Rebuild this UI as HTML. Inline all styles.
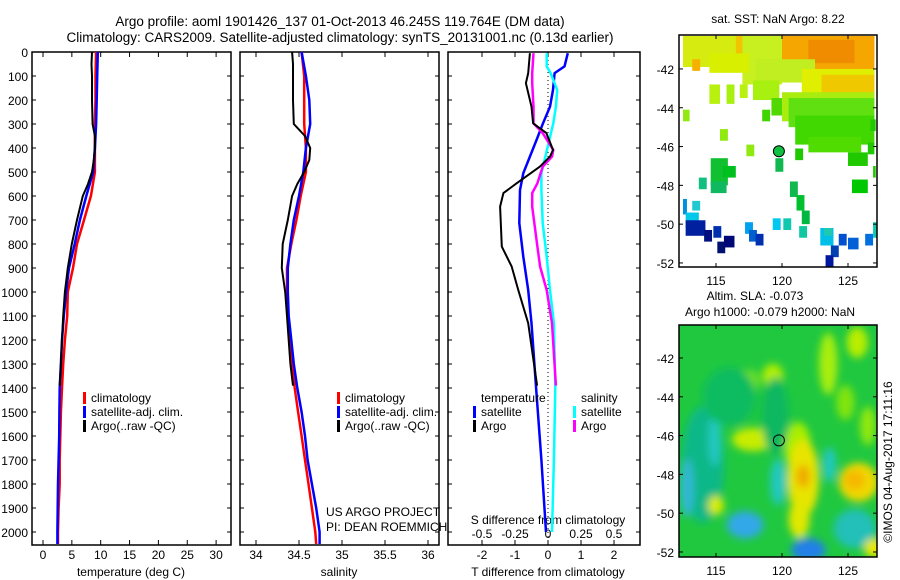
<!DOCTYPE html>
<html><head><meta charset="utf-8"><style>
html,body{margin:0;padding:0;background:#fff;}
svg{display:block;font-family:"Liberation Sans",Arial,sans-serif;}
text{fill:#000;}
</style></head><body>
<svg id="fig" width="900" height="580" viewBox="0 0 900 580" xmlns="http://www.w3.org/2000/svg">
<defs>
<filter id="blur" x="-20%" y="-20%" width="140%" height="140%"><feGaussianBlur stdDeviation="4"/></filter>
<clipPath id="clipB"><rect x="679" y="325" width="198" height="232"/></clipPath>
<clipPath id="clipT"><rect x="679" y="35" width="198" height="232"/></clipPath>
</defs>
<text x="340" y="26" font-size="13.5" text-anchor="middle">Argo profile: aoml 1901426_137 01-Oct-2013 46.245S 119.764E (DM data)</text>
<text x="340" y="42" font-size="13.5" text-anchor="middle">Climatology: CARS2009. Satellite-adjusted climatology: synTS_20131001.nc (0.13d earlier)</text>
<g id="p1"></g>
<g id="p2"></g>
<g id="p3"></g>
<g id="mapT"></g>
<g id="mapB"></g>
<text transform="translate(892,462) rotate(-90)" font-size="12" text-anchor="middle">©IMOS 04-Aug-2017 17:11:16</text>
</svg>
<script>
// ---- data ----
const depthsClim = [0,100,200,300,400,500,600,700,800,900,1000,1100,1200,1300,1400,1500,1600,1700,1800,1900,2000,2050];
const tempClim =   [9.2,9.1,9.1,9.0,9.0,9.0,8.3,7.1,5.9,5.2,4.3,4.2,3.8,3.5,3.3,3.1,3.0,2.9,2.9,2.7,2.6,2.6];
const tempSat =    [9.5,9.4,9.3,9.2,9.0,8.7,7.5,6.4,5.5,4.5,4.0,3.6,3.3,3.1,2.9,2.85,2.8,2.7,2.6,2.55,2.5,2.5];
const depthsArgo = [0,50,100,200,300,350,400,450,500,550,600,700,800,900,1000,1100,1200,1300,1390];
const tempArgo =   [8.5,8.4,8.5,8.5,8.6,9.0,9.0,8.8,8.5,7.8,6.9,5.9,5.0,4.3,3.8,3.5,3.3,3.1,2.9];
const salClim =    [34.53,34.56,34.56,34.56,34.58,34.58,34.52,34.47,34.41,34.36,34.36,34.37,34.39,34.42,34.45,34.49,34.53,34.57,34.61,34.65,34.69,34.70];
const salSat =     [34.53,34.58,34.62,34.63,34.58,34.55,34.50,34.44,34.40,34.37,34.37,34.38,34.41,34.44,34.48,34.53,34.57,34.60,34.65,34.70,34.74,34.74];
const salArgo =    [34.42,34.43,34.43,34.43,34.44,34.57,34.63,34.62,34.56,34.48,34.42,34.37,34.31,34.30,34.34,34.36,34.38,34.40,34.43];
const depthsDiff = [5,60,88,158,228,297,367,436,505,575,713,853,992,1130,1400,1700,2000];
const dTsat =      [0.6,0.5,0.2,0.15,0.06,-0.15,-0.35,-0.55,-0.75,-0.85,-0.87,-0.75,-0.6,-0.5,-0.36,-0.2,-0.06];
const dSsat =      [-0.01,-0.01,0.02,0.07,0.06,0.04,0.01,-0.02,-0.05,-0.05,-0.04,-0.01,0.015,0.045,0.055,0.045,0.03];
const depthsDArgo =[5,88,130,228,297,338,408,436,478,547,588,644,811,894,992,1130,1390];
const dTargo =     [-0.55,-0.6,-0.67,-0.5,-0.45,-0.05,0.15,0.06,-0.25,-0.95,-1.35,-1.45,-1.4,-1.1,-0.9,-0.6,-0.33];
const dSargo =     [-0.11,-0.12,-0.12,-0.11,-0.11,-0.04,0.04,0.03,-0.04,-0.08,-0.12,-0.12,-0.08,-0.06,-0.01,0.03,0.06];
const depthTicks = [0,100,200,300,400,500,600,700,800,900,1000,1100,1200,1300,1400,1500,1600,1700,1800,1900,2000];
const tempTicks = [0,5,10,15,20,25,30];
const salTicks = [34,34.5,35,35.5,36];
const dTTicks = [-2,-1,0,1,2];
const dSTicks = [-0.5,-0.25,0,0.25,0.5];
const dSTickLabels = ["-0.5","-0.25","0","0.25","0.5"];
const lonTicks = [115,120,125];
const latTicks = [-42,-44,-46,-48,-50,-52];
const argoLon = 119.764, argoLat = -46.245;
const sstCells = [
 [112.5,-40.3,14.5,1.2,"#f2c400"],[112.5,-40.3,4,1.6,"#d6ec10"],[117,-40.3,3,2.5,"#c8f020"],[120,-40.3,7,2.2,"#f5a600"],
 [122,-40.5,3.5,1.2,"#f08c00"],[113.2,-41.5,0.6,0.6,"#f5b000"],[114.5,-41.2,3,1,"#d8f000"],[118,-41.5,4.5,1.2,"#c0ee20"],
 [121.5,-42,5.5,1.8,"#e0ee00"],[123,-42.3,4,1.2,"#f0c800"],[120,-43.2,7,1.5,"#a8ec10"],[120.5,-43.5,6.5,1.5,"#60e010"],
 [121,-44.4,6,1.5,"#40d800"],[122,-45.5,4,0.8,"#50dc00"],[114.5,-42.8,0.8,1,"#b8f010"],[115.8,-42.8,0.6,1,"#a8f010"],
 [116.8,-42.8,0.6,0.7,"#b8f010"],[117.8,-42.6,2,1,"#a8f010"],[119.2,-43.5,0.8,0.9,"#50d800"],[112.5,-44.1,0.5,0.6,"#90ea10"],
 [115.3,-45.1,0.6,0.6,"#90ea10"],[117.3,-45.9,0.6,0.6,"#90ea10"],[118.5,-44.1,0.6,0.6,"#40d400"],[121,-46.1,0.6,0.6,"#20c800"],
 [114.6,-46.6,1.3,1.4,"#10c030"],[115.5,-47,1,0.6,"#00c020"],[113.7,-47.6,0.6,0.6,"#10c080"],[114.6,-47.8,1.2,0.6,"#10b860"],
 [119.5,-46.6,0.6,0.7,"#10b850"],[120.6,-47.8,0.6,0.8,"#10b850"],[121.1,-48.5,0.6,0.8,"#00c030"],[121.5,-49.3,0.6,0.7,"#00b840"],
 [125,-46.3,1.5,0.7,"#20c800"],[125.3,-47.7,1.2,0.7,"#00c800"],[126.9,-47,0.2,0.6,"#20c800"],[126.5,-45.8,0.5,0.6,"#20c800"],
 [112.5,-48.7,0.3,0.8,"#0090e0"],[113.2,-48.8,0.6,0.5,"#20c8d0"],[112.7,-49.4,1,0.8,"#00c8e8"],[112.7,-49.8,1.5,0.8,"#0020a0"],
 [114.1,-50.3,0.6,0.6,"#001080"],[114.8,-50.1,0.6,0.6,"#0030b0"],[115.1,-50.9,0.6,0.6,"#001070"],[115.6,-50.6,0.8,0.6,"#000878"],
 [117.2,-49.9,0.6,0.6,"#00a0f0"],[117.5,-50.3,0.6,0.6,"#0060d0"],[118,-50.5,0.6,0.6,"#0030b0"],[119.3,-49.7,0.6,0.6,"#00c8f0"],
 [120.1,-49.7,0.6,0.6,"#10c8b0"],[121.3,-50.1,0.6,0.6,"#10c8a0"],[122.9,-50.2,1,0.9,"#00c0e8"],[123.2,-50.2,0.6,0.4,"#20c8b0"],
 [124.3,-50.5,0.6,0.6,"#0050d0"],[123.7,-51.1,0.6,0.6,"#0040b0"],[123.3,-51.6,0.6,0.6,"#0018a0"],[125,-50.7,0.8,0.6,"#0060d8"],
 [126.3,-50.5,0.6,0.6,"#0070e0"],[126.9,-49.9,0.4,0.8,"#10c8b0"],[120.4,-52.2,0.8,0.2,"#000080"],[126.7,-44.6,0.4,0.6,"#20c800"]
];
const slaBlobs = [
 [114,-47.5,1.6,3,"#10b888"],[114.9,-46.2,0.5,1.4,"#20c8c0"],[119.7,-48.4,0.6,1.2,"#20c8c0"],[123.6,-47.5,0.5,0.9,"#20c8c0"],
 [112.8,-48.7,0.5,1.5,"#30b8d8"],[117.2,-50.6,1.4,0.7,"#30a8e8"],[122,-51.9,1.3,0.6,"#2080e8"],[125.5,-50.8,1.6,1,"#20c0b8"],
 [117.8,-46.2,1.6,0.6,"#c8ec00"],[121.2,-46.6,1,1.3,"#a8ee00"],[121.6,-48.2,1.2,2,"#e8e400"],[121.6,-48.1,0.5,0.6,"#f0a800"],
 [121.3,-50.3,0.8,1,"#e0e800"],[125.8,-48.4,1.5,1,"#f0d800"],[125.5,-48.3,0.8,0.5,"#f5b800"],[115,-49.6,0.6,0.5,"#d8ec00"],
 [119.3,-42.9,0.8,0.6,"#b0ee00"],[123.5,-42.3,0.7,1.6,"#a8ee10"],[125.7,-41.2,0.8,0.8,"#b8ee00"],[117.5,-43.2,0.8,0.6,"#70e020"],
 [126.5,-45.5,0.6,1,"#90e810"],[124.8,-44.3,0.7,0.9,"#80e410"],[127,-51.8,0.8,0.5,"#e8e800"],[116,-44,2,1.5,"#10bc60"],[119.5,-45,1,2,"#10b860"]
];
</script>
<script>
const NS="http://www.w3.org/2000/svg";
function mk(parent, tag, attrs){const e=document.createElementNS(NS,tag);for(const k in attrs)e.setAttribute(k,attrs[k]);parent.appendChild(e);return e;}
const pTop=52, pBot=545;
const yD = d => pTop + d*0.24;
function frame(g, x0, x1){
  const r=mk(g,'rect',{x:x0,y:pTop,width:x1-x0,height:pBot-pTop,fill:'none',stroke:'#000','stroke-width':1.5});
  
  
  depthTicks.forEach(d=>{
    mk(g,'line',{x1:x0,x2:x0+4,y1:yD(d),y2:yD(d),stroke:'#000'});
    mk(g,'line',{x1:x1,x2:x1-4,y1:yD(d),y2:yD(d),stroke:'#000'});
  });
}
function xticks(g, ticks, labels, fx, ly){
  ticks.forEach((t,i)=>{
    mk(g,'line',{x1:fx(t),x2:fx(t),y1:pBot,y2:pBot-5,stroke:'#000'});
    mk(g,'line',{x1:fx(t),x2:fx(t),y1:pTop,y2:pTop+5,stroke:'#000'});
    const tx=mk(g,'text',{x:fx(t),y:ly,'font-size':12,'text-anchor':'middle'});tx.textContent=labels[i];
    
    
  });
}
function line(g, xs, ds, fx, color, name, w){
  const p=mk(g,'polyline',{points:xs.map((v,i)=>fx(v).toFixed(1)+','+yD(ds[i]).toFixed(1)).join(' '),fill:'none',stroke:color,'stroke-width':w||2.5,'stroke-linejoin':'round'});
  
  
}
function txt(g,x,y,s,size,anchor,name){const t=mk(g,'text',{x:x,y:y,'font-size':size||12,'text-anchor':anchor||'start'});t.textContent=s;
  
  return t;}
function legend(g,x,y,color,label){mk(g,'rect',{x:x,y:y-10,width:3,height:12,fill:color});txt(g,x+8,y,label,12,'start','legend-entry');}

const g1=document.getElementById('p1');
const fT=t=>43+5.77*t;
frame(g1,32,231);
depthTicks.forEach(d=>txt(g1,28,yD(d)+5,String(d),12,'end','y-tick-label'));
xticks(g1,tempTicks,tempTicks.map(String),fT,559);
txt(g1,131,576,'temperature (deg C)',12,'middle','x-axis-title');
line(g1,tempClim,depthsClim,fT,'#ff0000','temp-climatology-line');
line(g1,tempSat,depthsClim,fT,'#0000ff','temp-satellite-line');
line(g1,tempArgo,depthsArgo,fT,'#000','temp-argo-line',2);
legend(g1,83,402,'#ff0000','climatology');legend(g1,83,416,'#0000ff','satellite-adj. clim.');legend(g1,83,430,'#000','Argo(..raw -QC)');

const g2=document.getElementById('p2');
const fS=s=>256+86*(s-34);
frame(g2,240,439);
xticks(g2,salTicks,salTicks.map(String),fS,559);
txt(g2,339,576,'salinity',12,'middle','x-axis-title');
line(g2,salClim,depthsClim,fS,'#ff0000','sal-climatology-line');
line(g2,salSat,depthsClim,fS,'#0000ff','sal-satellite-line');
line(g2,salArgo,depthsArgo,fS,'#000','sal-argo-line',2);
legend(g2,337,402,'#ff0000','climatology');legend(g2,337,416,'#0000ff','satellite-adj. clim.');legend(g2,337,430,'#000','Argo(..raw -QC)');
txt(g2,326,516,'US ARGO PROJECT',12,'start','credit-project');
txt(g2,326,531,'PI: DEAN ROEMMICH',12,'start','credit-pi');

const g3=document.getElementById('p3');
const fdT=v=>548+33*v, fdS=v=>548+132*v;
frame(g3,448,640);
mk(g3,'line',{x1:548,x2:548,y1:pTop,y2:pBot,stroke:'#000','stroke-dasharray':'1,3'});
xticks(g3,dTTicks,dTTicks.map(String),fdT,559);
dSTicks.forEach((t,i)=>txt(g3,fdS(t),538,dSTickLabels[i],12,'middle','s-tick-label'));
txt(g3,548,524,'S difference from climatology',12,'middle','s-axis-title');
txt(g3,548,576,'T difference from climatology',12,'middle','x-axis-title');
line(g3,dTsat,depthsDiff,fdT,'#0000ff','dT-satellite-line');
line(g3,dSsat,depthsDiff,fdS,'#00ffff','dS-satellite-line');
line(g3,dSargo,depthsDArgo,fdS,'#ff00ff','dS-argo-line');
line(g3,dTargo,depthsDArgo,fdT,'#000','dT-argo-line',2);
txt(g3,481,402,'temperature',12,'start','legend-header-t');
txt(g3,581,402,'salinity',12,'start','legend-header-s');
legend(g3,473,416,'#0000ff','satellite');legend(g3,473,430,'#000','Argo');
legend(g3,573,416,'#00ffff','satellite');legend(g3,573,430,'#ff00ff','Argo');

function drawMap(g, y0, clip, draw){
  const fx=lon=>716+13.2*(lon-115);
  const latTop = y0===35 ? -40.25 : -40.3;
  const fy=lat=>y0+19.4*(latTop-lat);
  mk(g,'rect',{x:679,y:y0,width:198,height:232,fill:draw.bg});
  const cg=mk(g,'g',{'clip-path':'url(#'+clip+')'});
  draw.fn(cg,fx,fy);
  const fr=mk(g,'rect',{x:679,y:y0,width:198,height:232,fill:'none',stroke:'#000','stroke-width':1.5});
  
  
  lonTicks.forEach(l=>{mk(g,'line',{x1:fx(l),x2:fx(l),y1:y0,y2:y0+4,stroke:'#000'});mk(g,'line',{x1:fx(l),x2:fx(l),y1:y0+232,y2:y0+228,stroke:'#000'});
    txt(g,fx(l),y0+250,String(l),12,'middle','lon-tick-label');});
  latTicks.forEach(l=>{mk(g,'line',{x1:679,x2:683,y1:fy(l),y2:fy(l),stroke:'#000'});mk(g,'line',{x1:877,x2:873,y1:fy(l),y2:fy(l),stroke:'#000'});
    txt(g,674,fy(l)+5,String(l),12,'end','lat-tick-label');});
  const c=mk(g,'circle',{cx:fx(argoLon),cy:fy(argoLat),r:5.5,fill:draw.dot,stroke:'#000','stroke-width':1});
  
  
}
const gT=document.getElementById('mapT');
txt(gT,778,23,'sat. SST: NaN Argo: 8.22',12,'middle','sst-map-title');
drawMap(gT,35,'clipT',{bg:'#fff',dot:'#10c040',fn:(cg,fx,fy)=>{
  sstCells.forEach(c=>{const r=mk(cg,'rect',{x:fx(c[0]),y:fy(c[1]),width:c[2]*13.2,height:c[3]*19.4,fill:c[4]});
    
    });
}});
const gB=document.getElementById('mapB');
txt(gB,755,300,'Altim. SLA: -0.073',12,'middle','sla-title-1');
txt(gB,770,316,'Argo h1000: -0.079 h2000: NaN',12,'middle','sla-title-2');
drawMap(gB,325,'clipB',{bg:'#20c840',dot:'none',fn:(cg,fx,fy)=>{
  const bg=mk(cg,'g',{filter:'url(#blur)'});
  slaBlobs.forEach(b=>{const e=mk(bg,'ellipse',{cx:fx(b[0]),cy:fy(b[1]),rx:b[2]*13.2,ry:b[3]*19.4,fill:b[4]});
    
    });
}});
</script>
</body></html>
